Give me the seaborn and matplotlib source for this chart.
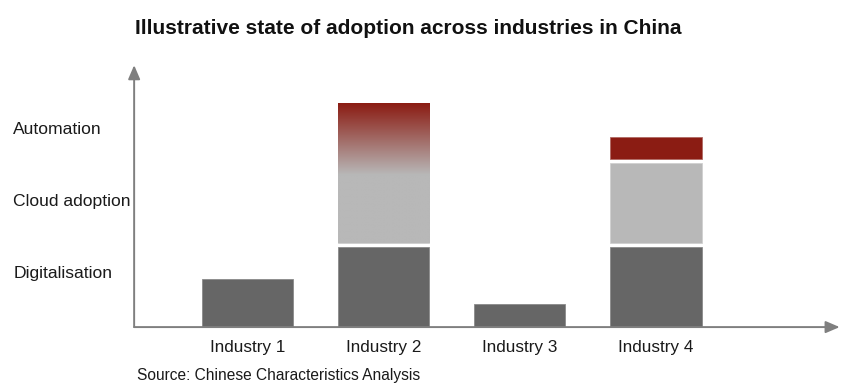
import numpy as np
import pandas as pd
import matplotlib.pyplot as plt
import seaborn as sns
from matplotlib.colors import LinearSegmentedColormap

# Données (unités arbitraires, 1.0 = bloc complet)
industries = ["Industry 1", "Industry 2", "Industry 3", "Industry 4"]
digitalisation = [0.6, 1.0, 0.29, 1.0]
cloud_adoption = [0.0, 1.0, 0.0, 1.0]
automation = [0.0, 0.75, 0.0, 0.275]
# Industry 2 : cloud et automation fondus dans un seul bloc en dégradé
blended = [False, True, False, False]

stage_labels = ["Digitalisation", "Cloud adoption", "Automation"]
stage_levels = [0.69, 1.59, 2.49]

title = "Illustrative state of adoption across industries in China"
source = "Source: Chinese Characteristics Analysis"

dark_grey = "#666666"
light_grey = "#b8b8b8"
red = "#8b1c13"
axis_grey = "#7f7f7f"
gap = 0.05
bar_w = 0.67

sns.set_theme(style="white")
plt.rcParams['font.family'] = ['Liberation Sans', 'DejaVu Sans']

fig = plt.figure(figsize=(8.49, 3.88), dpi=100)
ax = fig.add_axes([0.158, 0.157, 0.831, 0.675])

df = pd.DataFrame({"industry": industries, "digitalisation": digitalisation,
                   "cloud": cloud_adoption, "automation": automation})

sns.barplot(data=df, x="industry", y="digitalisation", color=dark_grey,
            saturation=1, width=bar_w, ax=ax, edgecolor="#8a8a8a", linewidth=0.6)

x = np.arange(len(industries))
cmap = LinearSegmentedColormap.from_list("fade", [light_grey, red])
for i, row in df.iterrows():
    if row.cloud <= 0:
        continue
    bottom = row.digitalisation + gap
    if blended[i]:
        top = bottom + row.cloud + row.automation
        patch = ax.bar(x[i], top - bottom, bottom=bottom, width=bar_w,
                       color=light_grey, edgecolor="#cfcfcf", linewidth=0.6)[0]
        start = bottom + 0.85 * row.cloud
        ys = np.linspace(bottom, top, 300)
        vals = np.clip((ys - start) / (top - start), 0, 1)
        img = ax.imshow(vals[:, None], cmap=cmap, vmin=0, vmax=1, origin="lower",
                        extent=[x[i] - bar_w / 2, x[i] + bar_w / 2, bottom, top],
                        aspect="auto", zorder=2.5)
        img.set_clip_path(patch)
    else:
        ax.bar(x[i], row.cloud, bottom=bottom, width=bar_w, color=light_grey,
               edgecolor="#d0d0d0", linewidth=0.6)
        if row.automation > 0:
            ax.bar(x[i], row.automation, bottom=bottom + row.cloud + gap,
                   width=bar_w, color=red, edgecolor="#b06a64", linewidth=0.6)

ax.set_xlim(-0.835, 4.35)
ax.set_ylim(0, 3.275)
for s in ax.spines.values():
    s.set_visible(False)

# axes avec flèches
arrow = dict(arrowstyle="-|>,head_length=0.7,head_width=0.3", color=axis_grey, lw=1.4,
             shrinkA=0, shrinkB=0)
ax.annotate("", xy=(0, 1), xytext=(0, 0), xycoords="axes fraction", arrowprops=arrow)
ax.annotate("", xy=(1, 0), xytext=(0, 0), xycoords="axes fraction", arrowprops=arrow)

ax.set_xlabel("")
ax.set_ylabel("")
ax.set_xticks(x)
ax.set_xticklabels(industries, fontsize=12.3, color="#1a1a1a")
ax.tick_params(axis="x", length=0, pad=9)
ax.set_yticks(stage_levels)
ax.set_yticklabels(stage_labels, fontsize=12.6, color="#1a1a1a", ha="left")
ax.tick_params(axis="y", length=0, pad=87)

fig.text(0.159, 0.927, title, fontsize=15, fontweight="bold", va="center", color="#111111")
fig.text(0.161, 0.031, source, fontsize=11.2, va="center", color="#1a1a1a")

fig.savefig("out.png", dpi=100)
